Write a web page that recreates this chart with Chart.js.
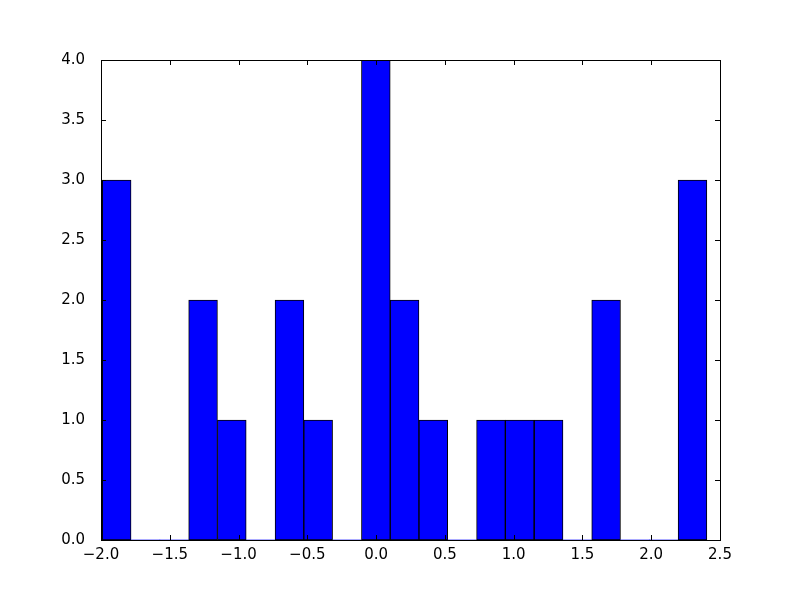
<!DOCTYPE html>
<html>
<head>
<meta charset="utf-8">
<script src="https://cdn.jsdelivr.net/npm/chart.js@4/dist/chart.umd.min.js"></script>
<style>
  html, body { margin: 0; padding: 0; background: #fff; }
  canvas { display: block; }
</style>
</head>
<body>
<canvas id="hist" width="800" height="600"></canvas>
<script>
// histogram bins (centres) and counts
const binCenters = [-1.886, -1.677, -1.467, -1.258, -1.049, -0.839, -0.630, -0.421, -0.211, -0.002,
                    0.207, 0.416, 0.626, 0.835, 1.044, 1.254, 1.463, 1.672, 1.882, 2.091, 2.300];
const counts = [3, 0, 0, 2, 1, 0, 2, 1, 0, 4, 2, 1, 0, 1, 1, 1, 0, 2, 0, 0, 3];
const xTicks = [-2.0, -1.5, -1.0, -0.5, 0.0, 0.5, 1.0, 1.5, 2.0, 2.5];
const yTicks = [0.0, 0.5, 1.0, 1.5, 2.0, 2.5, 3.0, 3.5, 4.0];

const fmt = v => v.toFixed(1).replace('-', '\u2212');

// matplotlib classic look: black frame, inward ticks on all four sides
const framePlugin = {
    id: 'frame',
    afterDatasetsDraw(chart) {
        const ctx = chart.ctx, a = chart.chartArea;
        const xs = chart.scales.x, ys = chart.scales.y;
        const tl = 5;
        ctx.save();
        ctx.strokeStyle = '#000';
        ctx.lineWidth = 1;
        ctx.beginPath();
        xTicks.forEach(v => {
            const px = Math.round(xs.getPixelForValue(v)) + 0.5;
            ctx.moveTo(px, a.bottom); ctx.lineTo(px, a.bottom - tl);
            ctx.moveTo(px, a.top); ctx.lineTo(px, a.top + tl);
        });
        yTicks.forEach(v => {
            const py = Math.round(ys.getPixelForValue(v)) + 0.5;
            ctx.moveTo(a.left, py); ctx.lineTo(a.left + tl, py);
            ctx.moveTo(a.right, py); ctx.lineTo(a.right - tl, py);
        });
        ctx.stroke();
        ctx.strokeRect(Math.round(a.left) + 0.5, Math.round(a.top) + 0.5,
                       Math.round(a.right - a.left), Math.round(a.bottom - a.top));
        ctx.restore();
    }
};

new Chart(document.getElementById('hist'), {
    type: 'bar',
    data: {
        datasets: [{
            data: binCenters.map((x, i) => ({x: x, y: counts[i]})),
            backgroundColor: '#0000ff',
            borderColor: '#000',
            borderWidth: ctx => (ctx.raw && ctx.raw.y > 0 ? 1 : 0),
            borderSkipped: false,
            barPercentage: 1.0,
            categoryPercentage: 1.0
        }]
    },
    options: {
        responsive: false,
        animation: false,
        devicePixelRatio: 1,
        layout: { padding: { top: 60, right: 80, left: 0, bottom: 0 } },
        plugins: { legend: { display: false }, tooltip: { enabled: false } },
        scales: {
            x: {
                type: 'linear',
                offset: false,
                min: -2.0,
                max: 2.5,
                grid: { display: false },
                border: { display: false },
                afterFit: s => { s.height = 60; },
                afterBuildTicks: s => { s.ticks = xTicks.map(v => ({value: v})); },
                ticks: {
                    color: '#000',
                    padding: -2,
                    maxRotation: 0,
                    autoSkip: false,
                    font: { family: 'DejaVu Sans', size: 15 },
                    callback: v => fmt(v)
                }
            },
            y: {
                min: 0,
                max: 4.0,
                grid: { display: false },
                border: { display: false },
                afterFit: s => { s.width = 101; },
                afterBuildTicks: s => { s.ticks = yTicks.map(v => ({value: v})); },
                ticks: {
                    color: '#000',
                    padding: 8,
                    autoSkip: false,
                    font: { family: 'DejaVu Sans', size: 15 },
                    callback: v => fmt(v)
                }
            }
        }
    },
    plugins: [framePlugin]
});
</script>
</body>
</html>
